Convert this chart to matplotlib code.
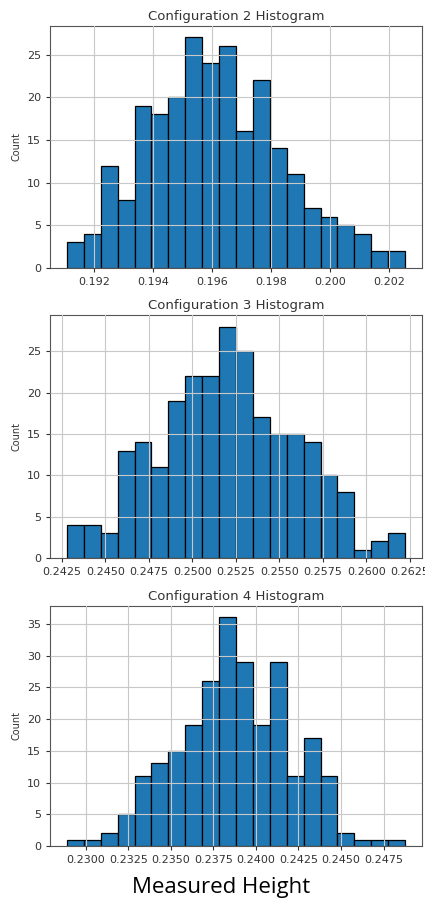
import matplotlib
matplotlib.use("Agg")
import matplotlib.pyplot as plt
import numpy as np

# bin counts (20 bins each)
config2_counts = [3, 4, 12, 8, 19, 18, 20, 27, 24, 26, 16, 22, 14, 11, 7, 6, 5, 4, 2, 2]
config3_counts = [4, 4, 3, 13, 14, 11, 19, 22, 22, 28, 25, 17, 15, 15, 14, 10, 8, 1, 2, 3]
config4_counts = [1, 1, 2, 5, 11, 13, 15, 19, 26, 36, 29, 19, 29, 11, 17, 11, 2, 1, 1, 1]

# data range (min, max) of each measurement set
config2_range = (0.19108, 0.20254)
config3_range = (0.24279, 0.26223)
config4_range = (0.22888, 0.24877)

titles = ["Configuration 2 Histogram", "Configuration 3 Histogram", "Configuration 4 Histogram"]

panels = [
    (config2_counts, config2_range, [0.192, 0.194, 0.196, 0.198, 0.200, 0.202], "{:.3f}"),
    (config3_counts, config3_range, np.arange(0.2425, 0.2626, 0.0025), "{:.4f}"),
    (config4_counts, config4_range, np.arange(0.2300, 0.2476, 0.0025), "{:.4f}"),
]

fig = plt.figure(figsize=(4.25, 9.05), dpi=100)
boxes = [
    [0.1176, 0.7039, 0.8754, 0.2674],
    [0.1176, 0.3834, 0.8754, 0.2686],
    [0.1176, 0.0652, 0.8754, 0.2652],
]

for (counts, rng, ticks, fmt), title, box in zip(panels, titles, boxes):
    ax = fig.add_axes(box)
    edges = np.linspace(rng[0], rng[1], len(counts) + 1)
    centers = (edges[:-1] + edges[1:]) / 2
    ax.hist(centers, bins=edges, weights=counts, color="#1f77b4",
            edgecolor="black", linewidth=0.9)
    ax.grid(True, color="#c8c8c8", linewidth=0.8)
    ax.set_axisbelow(False)
    ax.set_xticks(ticks)
    ax.set_xticklabels([fmt.format(t) for t in ticks])
    ax.tick_params(labelsize=8, colors="#333333", length=3)
    ax.set_ylabel("Count", fontsize=7, color="#333333")
    ax.set_title(title, fontsize=9.5, color="#333333", pad=4)
    for s in ax.spines.values():
        s.set_color("#555555")

fig.text(0.52, 0.019, "Measured Height", ha="center", va="center",
         fontsize=16, family="Open Sans", color="black")

plt.savefig("out.png", dpi=100)
